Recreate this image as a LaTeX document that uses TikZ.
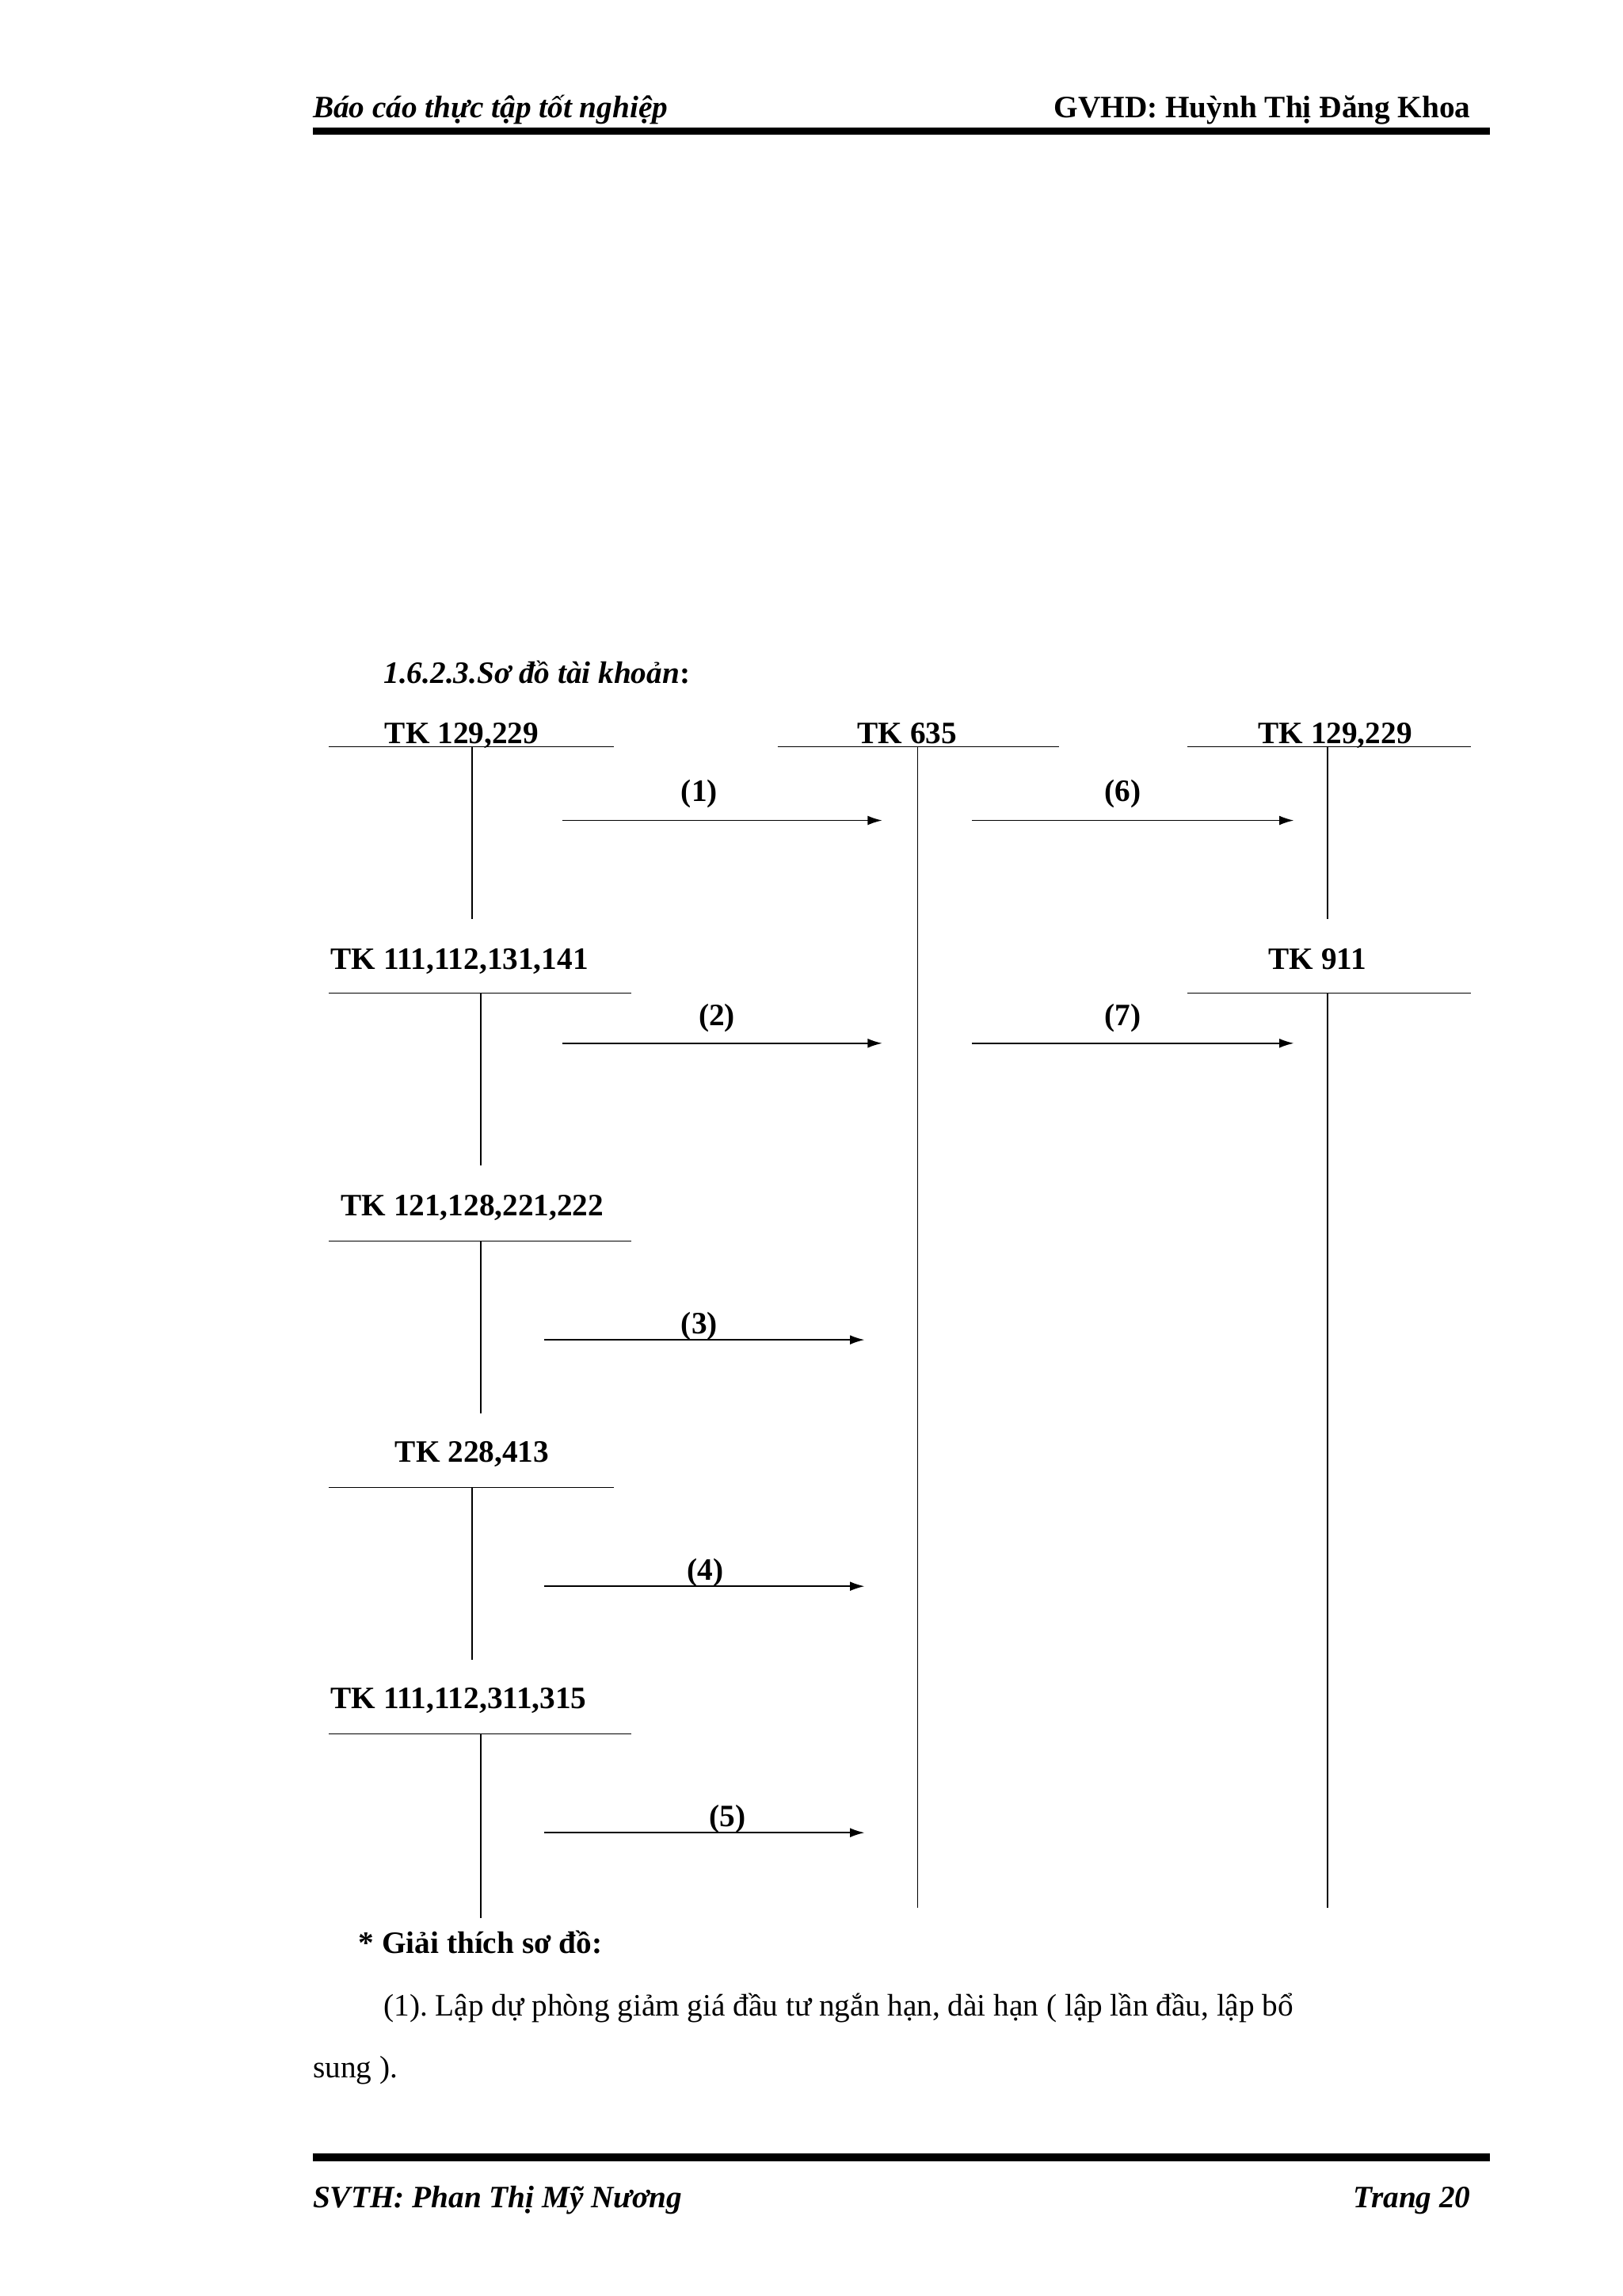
\documentclass[tikz,border=0pt]{standalone}
\usepackage{fontspec}
\setmainfont{Liberation Serif}
\begin{document}
\begin{tikzpicture}[x=0.5mm,y=-0.5mm,
  t/.style={font=\fontsize{30}{36}\selectfont\bfseries,inner sep=0pt},
  body/.style={font=\fontsize{30}{36}\selectfont,inner sep=0pt},
  ln/.style={line width=1.2pt},
  arr/.style={line width=1.2pt,-{Latex[length=14pt,width=9pt]}}]
\usetikzlibrary{arrows.meta}
\useasboundingbox (0,0) rectangle (1100,1556);
% header / footer
\node[t,anchor=base west] (h1) at (212,80) {\itshape Báo cáo thực tập tốt nghiệp};
\node[t,anchor=base east] (h2) at (997,80) {GVHD: Huỳnh Thị Đăng Khoa};
\draw[line width=7pt] (212,89) -- (1010,89);
\draw[line width=7pt] (212,1462) -- (1010,1462);
\node[t,anchor=base west] (f1) at (212,1496) {\itshape SVTH: Phan Thị Mỹ Nương};
\node[t,anchor=base east] (f2) at (997,1496) {\itshape Trang 20};
% title
\node[t,anchor=base west] (title) at (260,463) {\itshape 1.6.2.3.Sơ đồ tài khoản\upshape:};
% accounts
\node[t,anchor=base] (a1) at (313,504) {TK 129,229};
\draw[ln] (223,506) -- (416,506); \draw[ln] (320,506) -- (320,623);
\node[t,anchor=base] (a2) at (615,504) {TK 635};
\draw[ln] (527,506) -- (718,506); \draw[ln] (622,506) -- (622,1293);
\node[t,anchor=base] (a3) at (905,504) {TK 129,229};
\draw[ln] (805,506) -- (997,506); \draw[ln] (900,506) -- (900,623);
\node[t,anchor=base west] (a4) at (224,657) {TK 111,112,131,141};
\draw[ln] (223,673) -- (428,673); \draw[ln] (326,673) -- (326,790);
\node[t,anchor=base] (a5) at (893,657) {TK 911};
\draw[ln] (805,673) -- (997,673); \draw[ln] (900,673) -- (900,1293);
\node[t,anchor=base west] (a6) at (231,824) {TK 121,128,221,222};
\draw[ln] (223,841) -- (428,841); \draw[ln] (326,841) -- (326,958);
\node[t,anchor=base] (a7) at (320,991) {TK 228,413};
\draw[ln] (223,1008) -- (416,1008); \draw[ln] (320,1008) -- (320,1125);
\node[t,anchor=base west] (a8) at (224,1158) {TK 111,112,311,315};
\draw[ln] (223,1175) -- (428,1175); \draw[ln] (326,1175) -- (326,1300);
% arrows
\coordinate (s1) at (381,556); \coordinate (e1) at (598,556);
\coordinate (s6) at (659,556); \coordinate (e6) at (877,556);
\coordinate (s2) at (381,707); \coordinate (e2) at (598,707);
\coordinate (s7) at (659,707); \coordinate (e7) at (877,707);
\coordinate (s3) at (369,908); \coordinate (e3) at (586,908);
\coordinate (s4) at (369,1075); \coordinate (e4) at (586,1075);
\coordinate (s5) at (369,1242); \coordinate (e5) at (586,1242);
\foreach \i in {1,...,7}{\draw[arr] (s\i) -- (e\i);}
\node[t] (l1) at (474,538) {(1)};
\node[t] (l6) at (761,538) {(6)};
\node[t] (l2) at (486,690) {(2)};
\node[t] (l7) at (761,690) {(7)};
\node[t] (l3) at (474,899) {(3)};
\node[t] (l4) at (478,1066) {(4)};
\node[t] (l5) at (493,1233) {(5)};
% explanation
\node[t,anchor=base west] (g) at (243,1324) {* Giải thích sơ đồ:};
\node[body,anchor=base west,text width=370mm,align=justify] (p1) at (260,1366)
 {(1).\ Lập dự phòng giảm giá đầu tư ngắn hạn, dài hạn ( lập lần đầu, lập bổ\hfill\null};
\node[body,anchor=base west] (p2) at (212,1408) {sung ).};
\end{tikzpicture}
\end{document}
